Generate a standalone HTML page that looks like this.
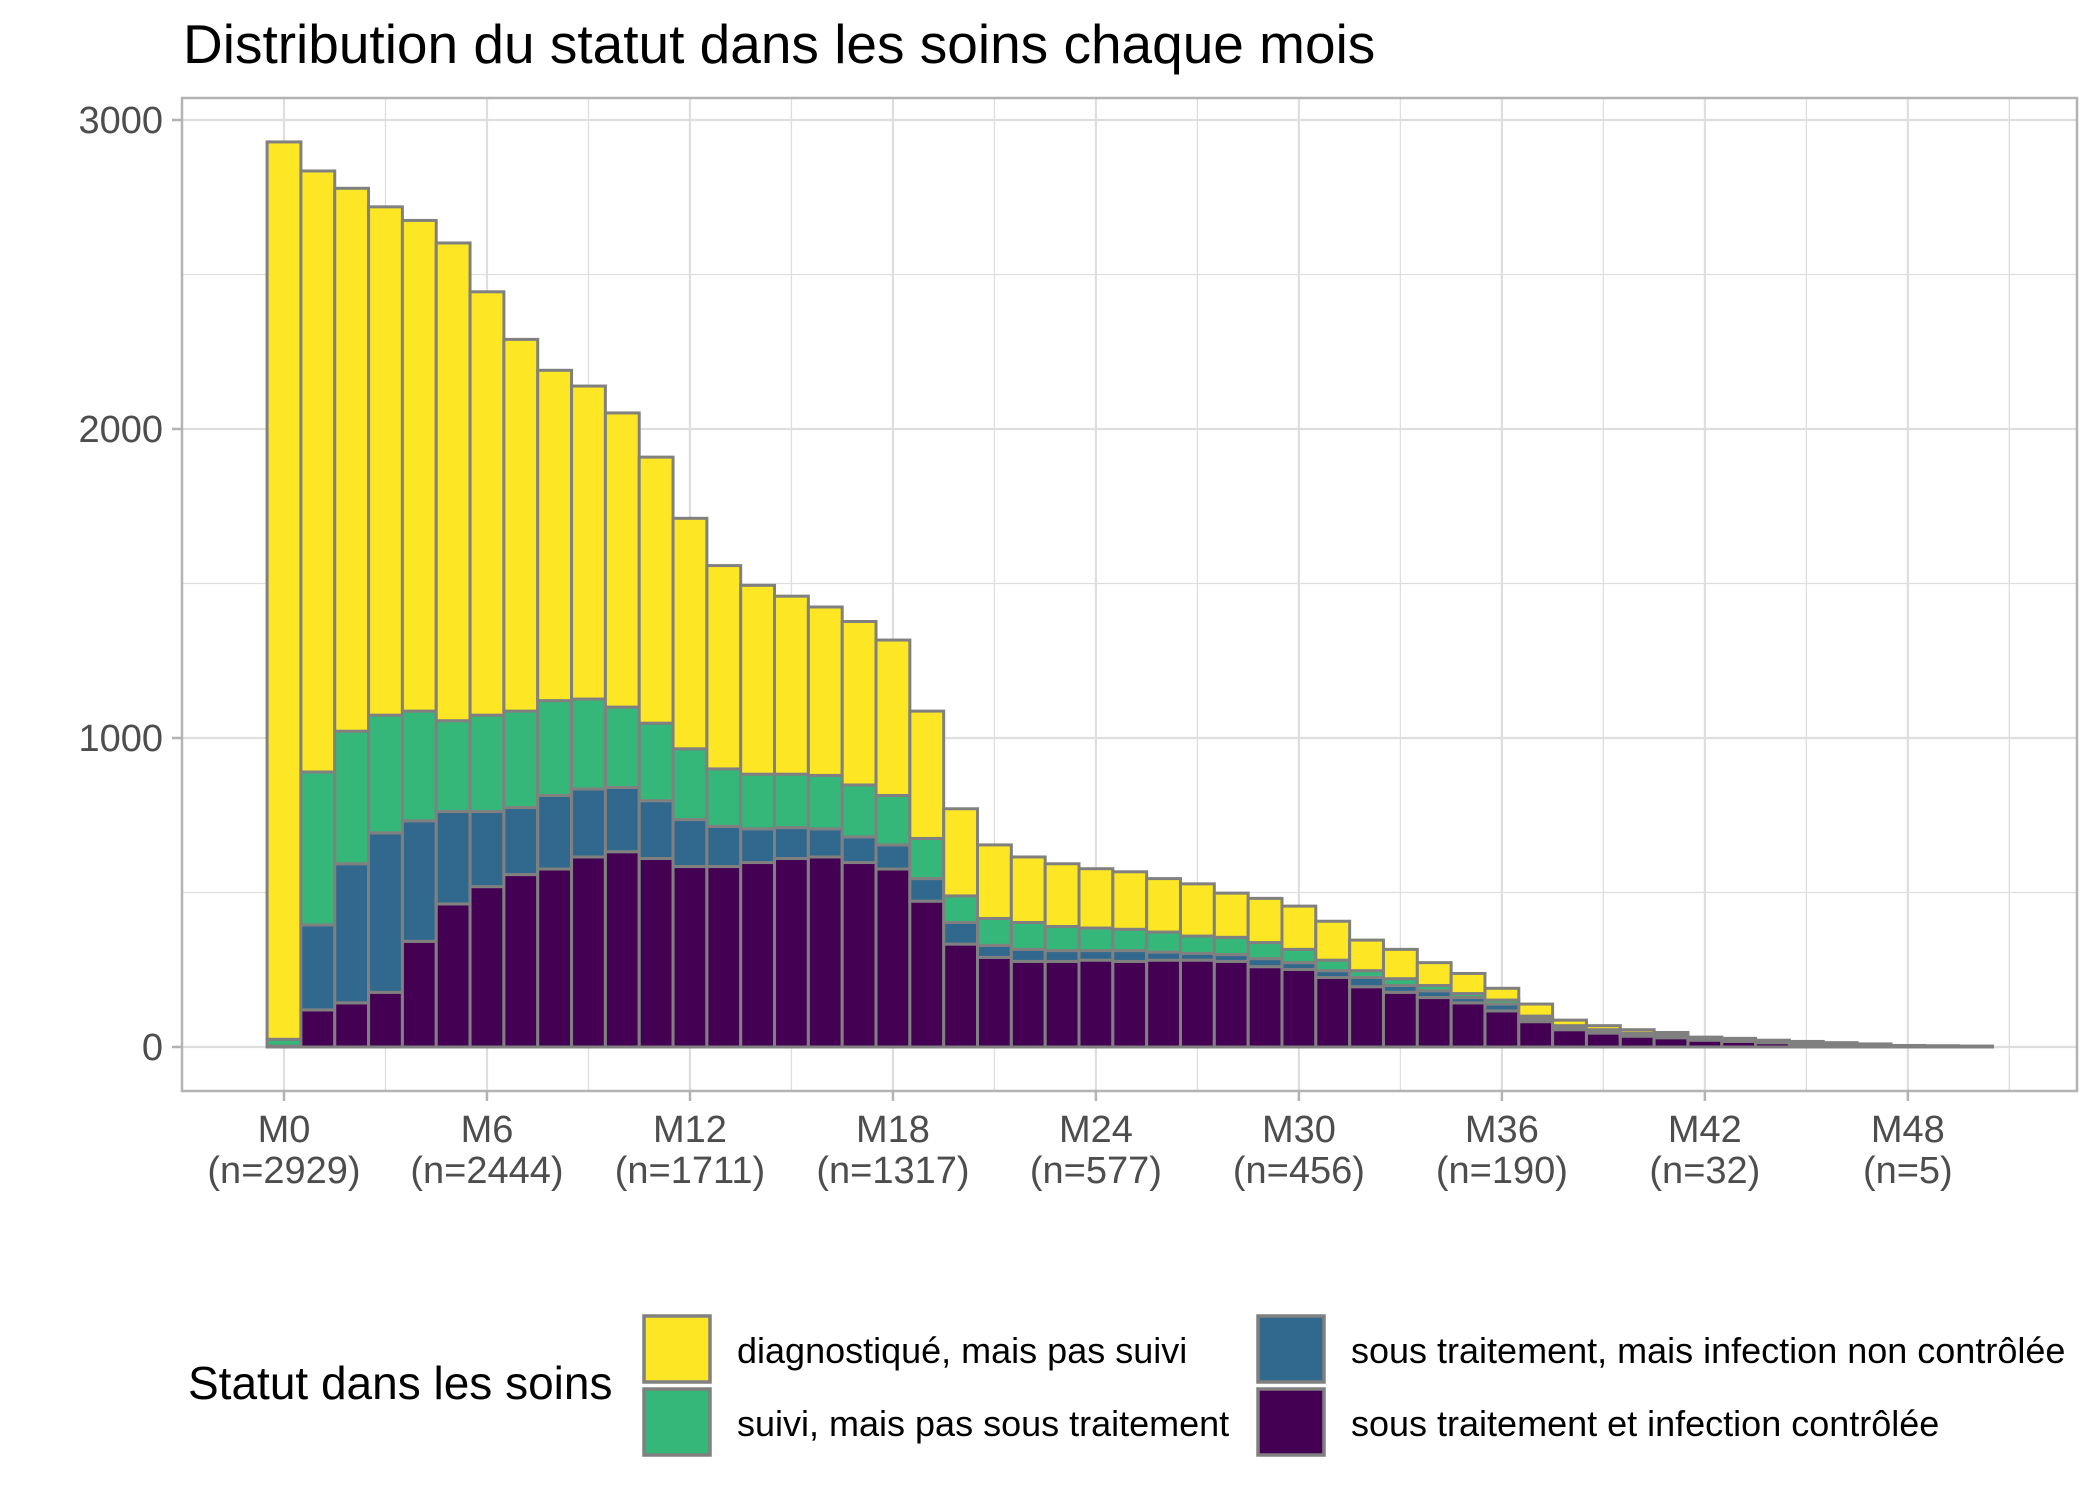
<!DOCTYPE html>
<html><head><meta charset="utf-8"><style>
html,body{margin:0;padding:0;background:#fff;}
svg{display:block;font-family:"Liberation Sans",Arial,sans-serif;}
</style></head><body>
<svg id="chart" width="2100" height="1500" viewBox="0 0 2100 1500" xmlns="http://www.w3.org/2000/svg">
<rect width="2100" height="1500" fill="#fff"/>
<text x="183" y="63" font-size="55" fill="#000">Distribution du statut dans les soins chaque mois</text>
<g id="grid"></g>
<g id="bars"></g>
<rect x="182" y="98" width="1895" height="993" fill="none" stroke="#b3b3b3" stroke-width="2.5"/>
<g id="axes"></g>
<g id="legend">
<text x="188" y="1399" font-size="46" fill="#000">Statut dans les soins</text>
<g><rect x="644" y="1316" width="66" height="66" fill="#FDE725" stroke="#808080" stroke-width="3.5"/><text x="737" y="1363" font-size="36">diagnostiqué, mais pas suivi</text></g>
<g><rect x="644" y="1389" width="66" height="66" fill="#35B779" stroke="#808080" stroke-width="3.5"/><text x="737" y="1436" font-size="36">suivi, mais pas sous traitement</text></g>
<g><rect x="1258" y="1316" width="66" height="66" fill="#31688E" stroke="#808080" stroke-width="3.5"/><text x="1351" y="1363" font-size="36">sous traitement, mais infection non contrôlée</text></g>
<g><rect x="1258" y="1389" width="66" height="66" fill="#440154" stroke="#808080" stroke-width="3.5"/><text x="1351" y="1436" font-size="36">sous traitement et infection contrôlée</text></g>
</g>
</svg>
<script>
// cumulative tops of stacked layers, per month M0..M50
const months = Array.from({length:51},(_, i)=>i);
const totalTop = [2929,2835,2779,2719,2675,2602,2444,2290,2190,2139,2052,1909,1711,1558,1494,1459,1424,1377,1317,1087,771,654,615,593,577,567,545,528,498,481,456,407,346,316,273,238,190,139,87,69,56,47,32,28,22,18,14,10,5,4,3];
const greenTop = [25,890,1022,1074,1087,1056,1074,1087,1121,1126,1100,1048,965,900,883,883,879,848,814,675,489,416,403,390,385,381,372,359,355,338,316,281,247,221,199,173,152,100,69,56,45,38,26,22,17,13,10,7,4,3,2];
const blueTop = [3,395,593,693,732,762,762,775,814,835,840,797,736,714,706,710,706,680,654,545,403,329,316,312,312,312,307,303,299,286,273,247,225,199,182,160,139,91,65,52,40,34,24,20,15,11,9,6,3,2,1];
const purpleTop = [0,120,143,177,342,463,519,558,576,615,632,610,584,584,597,610,615,597,576,472,333,290,277,277,281,277,281,281,277,260,251,225,195,177,160,143,117,82,56,45,35,30,22,18,14,10,8,6,3,2,1];
const yTicks = [0,1000,2000,3000];
const xTickMonths = [0,6,12,18,24,30,36,42,48];
const xTickN = ["2929","2444","1711","1317","577","456","190","32","5"];

const NS="http://www.w3.org/2000/svg";
const X0=284, DX=33.83, Y0=1047, KY=(1047-120)/3000;
const px = m => X0 + m*DX;
const py = v => Y0 - v*KY;
function mk(tag, attrs, parent){const e=document.createElementNS(NS,tag);for(const k in attrs)e.setAttribute(k,attrs[k]);parent.appendChild(e);return e;}

const grid=document.getElementById('grid');
for(let v=500; v<=3000; v+=500){
  const l=mk('line',{x1:182,x2:2077,y1:py(v),y2:py(v),stroke:'#dedede','stroke-width':v%1000?1.3:2.2},grid);
  
  
}
{const l=mk('line',{x1:182,x2:2077,y1:py(0),y2:py(0),stroke:'#dedede','stroke-width':2.2},grid);

}
for(let m=-3; m<=51; m+=3){
  const x=px(m); if(x<183||x>2076) continue;
  const l=mk('line',{x1:x,x2:x,y1:98,y2:1091,stroke:'#dedede','stroke-width':m%6?1.3:2.2},grid);
  
  
}

const bars=document.getElementById('bars');
const layers=[
  ['bar-controlled','#440154',i=>0,i=>purpleTop[i]],
  ['bar-uncontrolled','#31688E',i=>purpleTop[i],i=>blueTop[i]],
  ['bar-followed','#35B779',i=>blueTop[i],i=>greenTop[i]],
  ['bar-diagnosed','#FDE725',i=>greenTop[i],i=>totalTop[i]]
];
months.forEach((m,i)=>{
  layers.forEach(([name,col,lo,hi])=>{
    const a=lo(i), b=hi(i);
    if(b<=a) return;
    const r=mk('rect',{x:px(m)-DX/2,y:py(b),width:DX,height:py(a)-py(b),fill:col,stroke:'#808080','stroke-width':3},bars);
    
    
  });
});

const axes=document.getElementById('axes');
yTicks.forEach(v=>{
  const t=mk('line',{x1:172,x2:182,y1:py(v),y2:py(v),stroke:'#b3b3b3','stroke-width':2.5},axes);
  
  
  const tx=mk('text',{x:163,y:py(v)+13,'font-size':38,fill:'#4d4d4d','text-anchor':'end'},axes);
  tx.textContent=v;
  
  
});
xTickMonths.forEach((m,i)=>{
  const t=mk('line',{x1:px(m),x2:px(m),y1:1091,y2:1101,stroke:'#b3b3b3','stroke-width':2.5},axes);
  
  
  const a=mk('text',{x:px(m),y:1142,'font-size':38,fill:'#4d4d4d','text-anchor':'middle'},axes);
  a.textContent='M'+m;
  
  
  const b=mk('text',{x:px(m),y:1183,'font-size':38,fill:'#4d4d4d','text-anchor':'middle'},axes);
  b.textContent='(n='+xTickN[i]+')';
  
  
});
</script>
</body></html>
